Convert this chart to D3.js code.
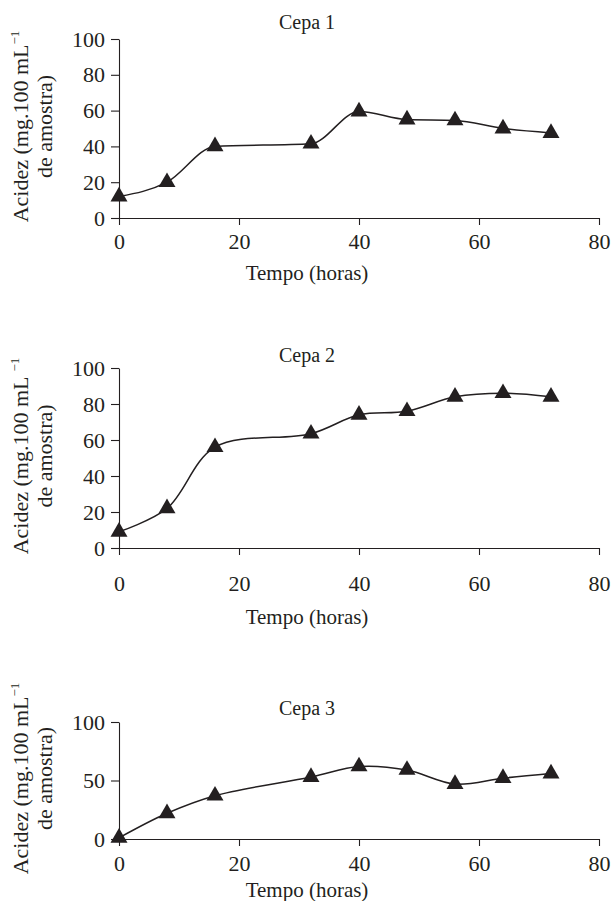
<!DOCTYPE html>
<html>
<head>
<meta charset="utf-8">
<script src="https://cdn.jsdelivr.net/npm/d3@7"></script>
<style>
  body { margin: 0; background: #fff; }
  text { font-family: "Liberation Serif", "Times New Roman", serif; fill: #231f20; }
</style>
</head>
<body>
<svg></svg>
<script>
'use strict';

// sampling times (hours) and acidity for each strain
var hours = [0, 8, 16, 32, 40, 48, 56, 64, 72];
var cepa1 = [12, 20, 40, 41.5, 59.5, 55, 54.5, 50, 47.5];
var cepa2 = [9, 22, 56, 63.5, 74, 76, 84, 86, 84];
var cepa3 = [1, 22, 37, 53, 62, 59, 47, 52, 56];

var titles = ['Cepa 1', 'Cepa 2', 'Cepa 3'];
var xTicks = [0, 20, 40, 60, 80];
var yTicksA = [0, 20, 40, 60, 80, 100];
var yTicksB = [0, 50, 100];

var SVG_SIZE = {width: 614, height: 901};
var PLOT_X = {left: 119, right: 599};
var TEXT_CENTER = 307; // titles sit in the middle of the page

// where each panel sits on the page
var panels = [
  {values: cepa1, ticks: yTicksA, top: 39, bottom: 218, titleY: 29, pad: 8, xTitleY: 280, curve: d3.curveMonotoneX, supGap: 0},
  {values: cepa2, ticks: yTicksA, top: 368, bottom: 548, titleY: 362, pad: 20, xTitleY: 624, curve: d3.curveCatmullRom, supGap: 5},
  {values: cepa3, ticks: yTicksB, top: 722, bottom: 839, titleY: 715, pad: 9, xTitleY: 897, curve: d3.curveCatmullRom, supGap: 0}
];

var svg = d3.select('svg')
  .attr('width', SVG_SIZE.width).attr('height', SVG_SIZE.height);

var xScale = d3.scaleLinear()
  .domain([0, 80])
  .range([PLOT_X.left, PLOT_X.right]);

panels.forEach(function(p, i) {
  var yScale = d3.scaleLinear()
    .domain([0, 100])
    .range([p.bottom, p.top]);

  var g = svg.append('g');

  // x axis
  var xAxis = d3.axisBottom(xScale)
    .tickValues(xTicks).tickSize(7).tickSizeOuter(0).tickPadding(p.pad);
  var gx = g.append('g')
    .attr('transform', 'translate(0,' + p.bottom + ')')
    .call(xAxis);

  // y axis
  var yAxis = d3.axisLeft(yScale)
    .tickValues(p.ticks).tickSize(8).tickSizeOuter(0).tickPadding(6);
  var gy = g.append('g')
    .attr('transform', 'translate(' + PLOT_X.left + ',0)')
    .call(yAxis);

  [gx, gy].forEach(function(a) {
    a.selectAll('path, line').attr('stroke', '#231f20').attr('stroke-width', 1.1);
    a.selectAll('text').style('font-size', '22px').attr('fill', '#231f20');
  });

  // line through the points
  var line = d3.line()
    .x(function(d, j) { return xScale(hours[j]); })
    .y(function(d) { return yScale(d); })
    .curve(p.curve);
  g.append('path')
    .datum(p.values)
    .attr('d', line)
    .attr('fill', 'none')
    .attr('stroke', '#231f20')
    .attr('stroke-width', 1.5);

  // triangle markers
  var tri = d3.symbol().type(d3.symbolTriangle).size(125);
  g.selectAll('.tri').data(p.values).enter().append('path')
    .attr('class', 'tri')
    .attr('d', tri)
    .attr('transform', function(d, j) {
      return 'translate(' + xScale(hours[j]) + ',' + yScale(d) + ')';
    })
    .attr('fill', '#231f20');

  // panel title
  g.append('text')
    .text(titles[i])
    .attr('x', TEXT_CENTER)
    .attr('y', p.titleY)
    .attr('text-anchor', 'middle')
    .style('font-size', '20px');

  // x axis title
  g.append('text')
    .text('Tempo (horas)')
    .attr('x', TEXT_CENTER)
    .attr('y', p.xTitleY)
    .attr('text-anchor', 'middle')
    .style('font-size', '21px');

  // y axis title, two lines
  var midY = (p.top + p.bottom) / 2 - 2;
  var t1 = g.append('text')
    .attr('transform', 'translate(28,' + midY + ') rotate(-90)')
    .attr('text-anchor', 'middle')
    .style('font-size', '22px');
  t1.append('tspan').text('Acidez (mg.100 mL');
  t1.append('tspan').text('\u22121')
    .attr('dx', p.supGap)
    .attr('dy', -9)
    .style('font-size', '13px');

  g.append('text')
    .text('de amostra)')
    .attr('transform', 'translate(52,' + midY + ') rotate(-90)')
    .attr('text-anchor', 'middle')
    .style('font-size', '22px');
});
</script>
</body>
</html>
